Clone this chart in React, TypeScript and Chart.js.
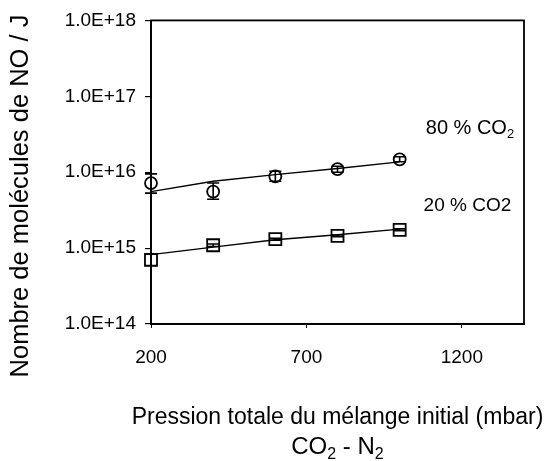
import React, { useEffect, useRef } from "react";
import { Chart, registerables } from "chart.js";

Chart.register(...registerables);

const pressures = [200, 400, 600, 800, 1000];
const co2_80 = [7.2e15, 5.55e15, 8.8e15, 1.1e16, 1.48e16];
const co2_80_errLow = [5.3e15, 4.4e15, 7.6e15, 1.0e16, 1.37e16];
const co2_80_errHigh = [9.5e15, 7.2e15, 1.03e16, 1.2e16, 1.6e16];
const co2_80_fit = [5.55e15, 7.6e15, 9.3e15, 1.12e16, 1.37e16];

const co2_20 = [7.0e14, 1.09e15, 1.31e15, 1.45e15, 1.74e15];
const co2_20_errLow = [5.9e14, 1.05e15, 1.27e15, 1.41e15, 1.69e15];
const co2_20_errHigh = [8.3e14, 1.13e15, 1.35e15, 1.49e15, 1.79e15];
const co2_20_fit = [8.2e14, 1.03e15, 1.29e15, 1.5e15, 1.78e15];

const xTicks = [200, 700, 1200];
const xTickLabels = ["200", "700", "1200"];
const yTicks = [1e14, 1e15, 1e16, 1e17, 1e18];
const yTickLabels = ["1.0E+14", "1.0E+15", "1.0E+16", "1.0E+17", "1.0E+18"];

const yTitle = "Nombre de molécules de NO / J";
const xTitleLine1 = "Pression totale du mélange initial (mbar)";
// second line: pieces with subscript flags ("CO₂ - N₂")
const xTitleLine2: [string, boolean][] = [["CO", false], ["2", true], [" - N", false], ["2", true]];
const label80: [string, boolean][] = [["80 % CO", false], ["2", true]];
const label20 = "20 % CO2";
const label80Pos = { x: 1084, y: 3.8e16 };
const label20Pos = { x: 1077, y: 3.6e15 };

const FONT = "'Liberation Sans', Arial, Helvetica, sans-serif";

function drawRich(ctx: any, pieces: [string, boolean][], x: number, y: number, size: number, align: "left" | "center") {
  const subSize = Math.round(size * 0.65);
  let total = 0;
  pieces.forEach(([t, sub]) => {
    ctx.font = `${sub ? subSize : size}px ${FONT}`;
    total += ctx.measureText(t).width;
  });
  let cx = align === "center" ? x - total / 2 : x;
  ctx.textAlign = "left";
  ctx.textBaseline = "middle";
  pieces.forEach(([t, sub]) => {
    ctx.font = `${sub ? subSize : size}px ${FONT}`;
    ctx.fillText(t, cx, sub ? y + size * 0.33 : y);
    cx += ctx.measureText(t).width;
  });
}

const errorBarPlugin = {
  id: "errorBars",
  afterDatasetsDraw(chart: any) {
    const { ctx, scales } = chart;
    const xs = scales.x;
    const ys = scales.y;
    const sets = [
      { lo: co2_80_errLow, hi: co2_80_errHigh },
      { lo: co2_20_errLow, hi: co2_20_errHigh },
    ];
    ctx.save();
    ctx.strokeStyle = "#000";
    ctx.lineWidth = 1.6;
    sets.forEach((s) => {
      pressures.forEach((p, i) => {
        const x = xs.getPixelForValue(p);
        const y1 = ys.getPixelForValue(s.lo[i]);
        const y2 = ys.getPixelForValue(s.hi[i]);
        ctx.beginPath();
        ctx.moveTo(x, y1);
        ctx.lineTo(x, y2);
        ctx.moveTo(x - 6, y1);
        ctx.lineTo(x + 6, y1);
        ctx.moveTo(x - 6, y2);
        ctx.lineTo(x + 6, y2);
        ctx.stroke();
      });
    });
    ctx.restore();
  },
};

const decorPlugin = {
  id: "decor",
  afterDraw(chart: any) {
    const { ctx, chartArea, scales } = chart;
    ctx.save();
    ctx.strokeStyle = "#000";
    ctx.lineWidth = 1.8;
    ctx.strokeRect(chartArea.left, chartArea.top, chartArea.right - chartArea.left, chartArea.bottom - chartArea.top);
    ctx.fillStyle = "#000";
    ctx.font = `25.5px ${FONT}`;
    ctx.textAlign = "center";
    ctx.textBaseline = "middle";
    ctx.translate(21, 196);
    ctx.rotate(-Math.PI / 2);
    ctx.fillText(yTitle, 0, 0);
    ctx.restore();

    ctx.save();
    ctx.fillStyle = "#000";
    // x title
    const cx = (chartArea.left + chartArea.right) / 2;
    ctx.font = `23px ${FONT}`;
    ctx.textAlign = "center";
    ctx.textBaseline = "middle";
    ctx.fillText(xTitleLine1, cx, chartArea.bottom + 94);
    drawRich(ctx, xTitleLine2, cx, chartArea.bottom + 123, 24, "center");

    const x80 = scales.x.getPixelForValue(label80Pos.x);
    const y80 = scales.y.getPixelForValue(label80Pos.y);
    drawRich(ctx, label80, x80, y80, 20, "left");
    const x20 = scales.x.getPixelForValue(label20Pos.x);
    const y20 = scales.y.getPixelForValue(label20Pos.y);
    ctx.font = `19px ${FONT}`;
    ctx.textAlign = "left";
    ctx.fillText(label20, x20, y20);
    ctx.restore();
  },
};

export default function App() {
  const ref = useRef<HTMLCanvasElement | null>(null);
  useEffect(() => {
    if (!ref.current) return;
    const chart = new Chart(ref.current, {
      type: "line",
      data: {
        datasets: [
          {
            label: "fit80",
            data: pressures.map((p, i) => ({ x: p, y: co2_80_fit[i] })),
            borderColor: "#000",
            borderWidth: 1.4,
            pointRadius: 0,
            tension: 0,
            clip: false,
          },
          {
            label: "fit20",
            data: pressures.map((p, i) => ({ x: p, y: co2_20_fit[i] })),
            borderColor: "#000",
            borderWidth: 1.4,
            pointRadius: 0,
            tension: 0,
            clip: false,
          },
          {
            label: "80 % CO2",
            data: pressures.map((p, i) => ({ x: p, y: co2_80[i] })),
            showLine: false,
            pointStyle: "circle",
            pointRadius: 6,
            pointBorderWidth: 1.8,
            pointBorderColor: "#000",
            pointBackgroundColor: "rgba(255,255,255,0)",
            clip: false,
          },
          {
            label: "20 % CO2",
            data: pressures.map((p, i) => ({ x: p, y: co2_20[i] })),
            showLine: false,
            pointStyle: "rect",
            pointRadius: 8.5,
            pointBorderWidth: 1.8,
            pointBorderColor: "#000",
            pointBackgroundColor: "#fff",
            clip: false,
          },
        ],
      },
      options: {
        animation: false,
        responsive: false,
        maintainAspectRatio: false,
        layout: { padding: { top: 20, right: 22, bottom: 0, left: 0 } },
        plugins: {
          legend: { display: false },
          tooltip: { enabled: false },
          title: { display: false },
        },
        scales: {
          x: {
            type: "linear",
            min: 200,
            max: 1400,
            afterBuildTicks: (s: any) => {
              s.ticks = xTicks.map((v) => ({ value: v }));
            },
            afterFit: (s: any) => {
              s.height = 137;
            },
            grid: { display: true, drawOnChartArea: false, drawTicks: true, tickLength: 4, color: "#000", lineWidth: 1 },
            border: { display: true, color: "#000", width: 1.8 },
            ticks: {
              color: "#000",
              font: { family: FONT, size: 19 },
              padding: 18,
              maxRotation: 0,
              callback: (v: any) => {
                const i = xTicks.indexOf(Number(v));
                return i >= 0 ? xTickLabels[i] : "";
              },
            },
            title: { display: false },
          },
          y: {
            type: "logarithmic",
            min: 1e14,
            max: 1e18,
            afterBuildTicks: (s: any) => {
              s.ticks = yTicks.map((v) => ({ value: v }));
            },
            afterFit: (s: any) => {
              s.width = 151;
            },
            grid: { display: true, drawOnChartArea: false, drawTicks: true, tickLength: 6, color: "#000", lineWidth: 1.2 },
            border: { display: true, color: "#000", width: 1.8 },
            ticks: {
              color: "#000",
              font: { family: FONT, size: 19 },
              padding: 9,
              callback: (v: any) => {
                const i = yTicks.findIndex((t) => Math.abs(Math.log10(t) - Math.log10(v)) < 1e-6);
                return i >= 0 ? yTickLabels[i] : "";
              },
            },
          },
        },
      },
      plugins: [errorBarPlugin, decorPlugin],
    } as any);
    return () => chart.destroy();
  }, []);
  return (
    <div style={{ position: "fixed", left: 0, top: 0, width: 546, height: 461, background: "#fff" }}>
      <canvas ref={ref} width={546} height={461} style={{ width: 546, height: 461 }} />
    </div>
  );
}
